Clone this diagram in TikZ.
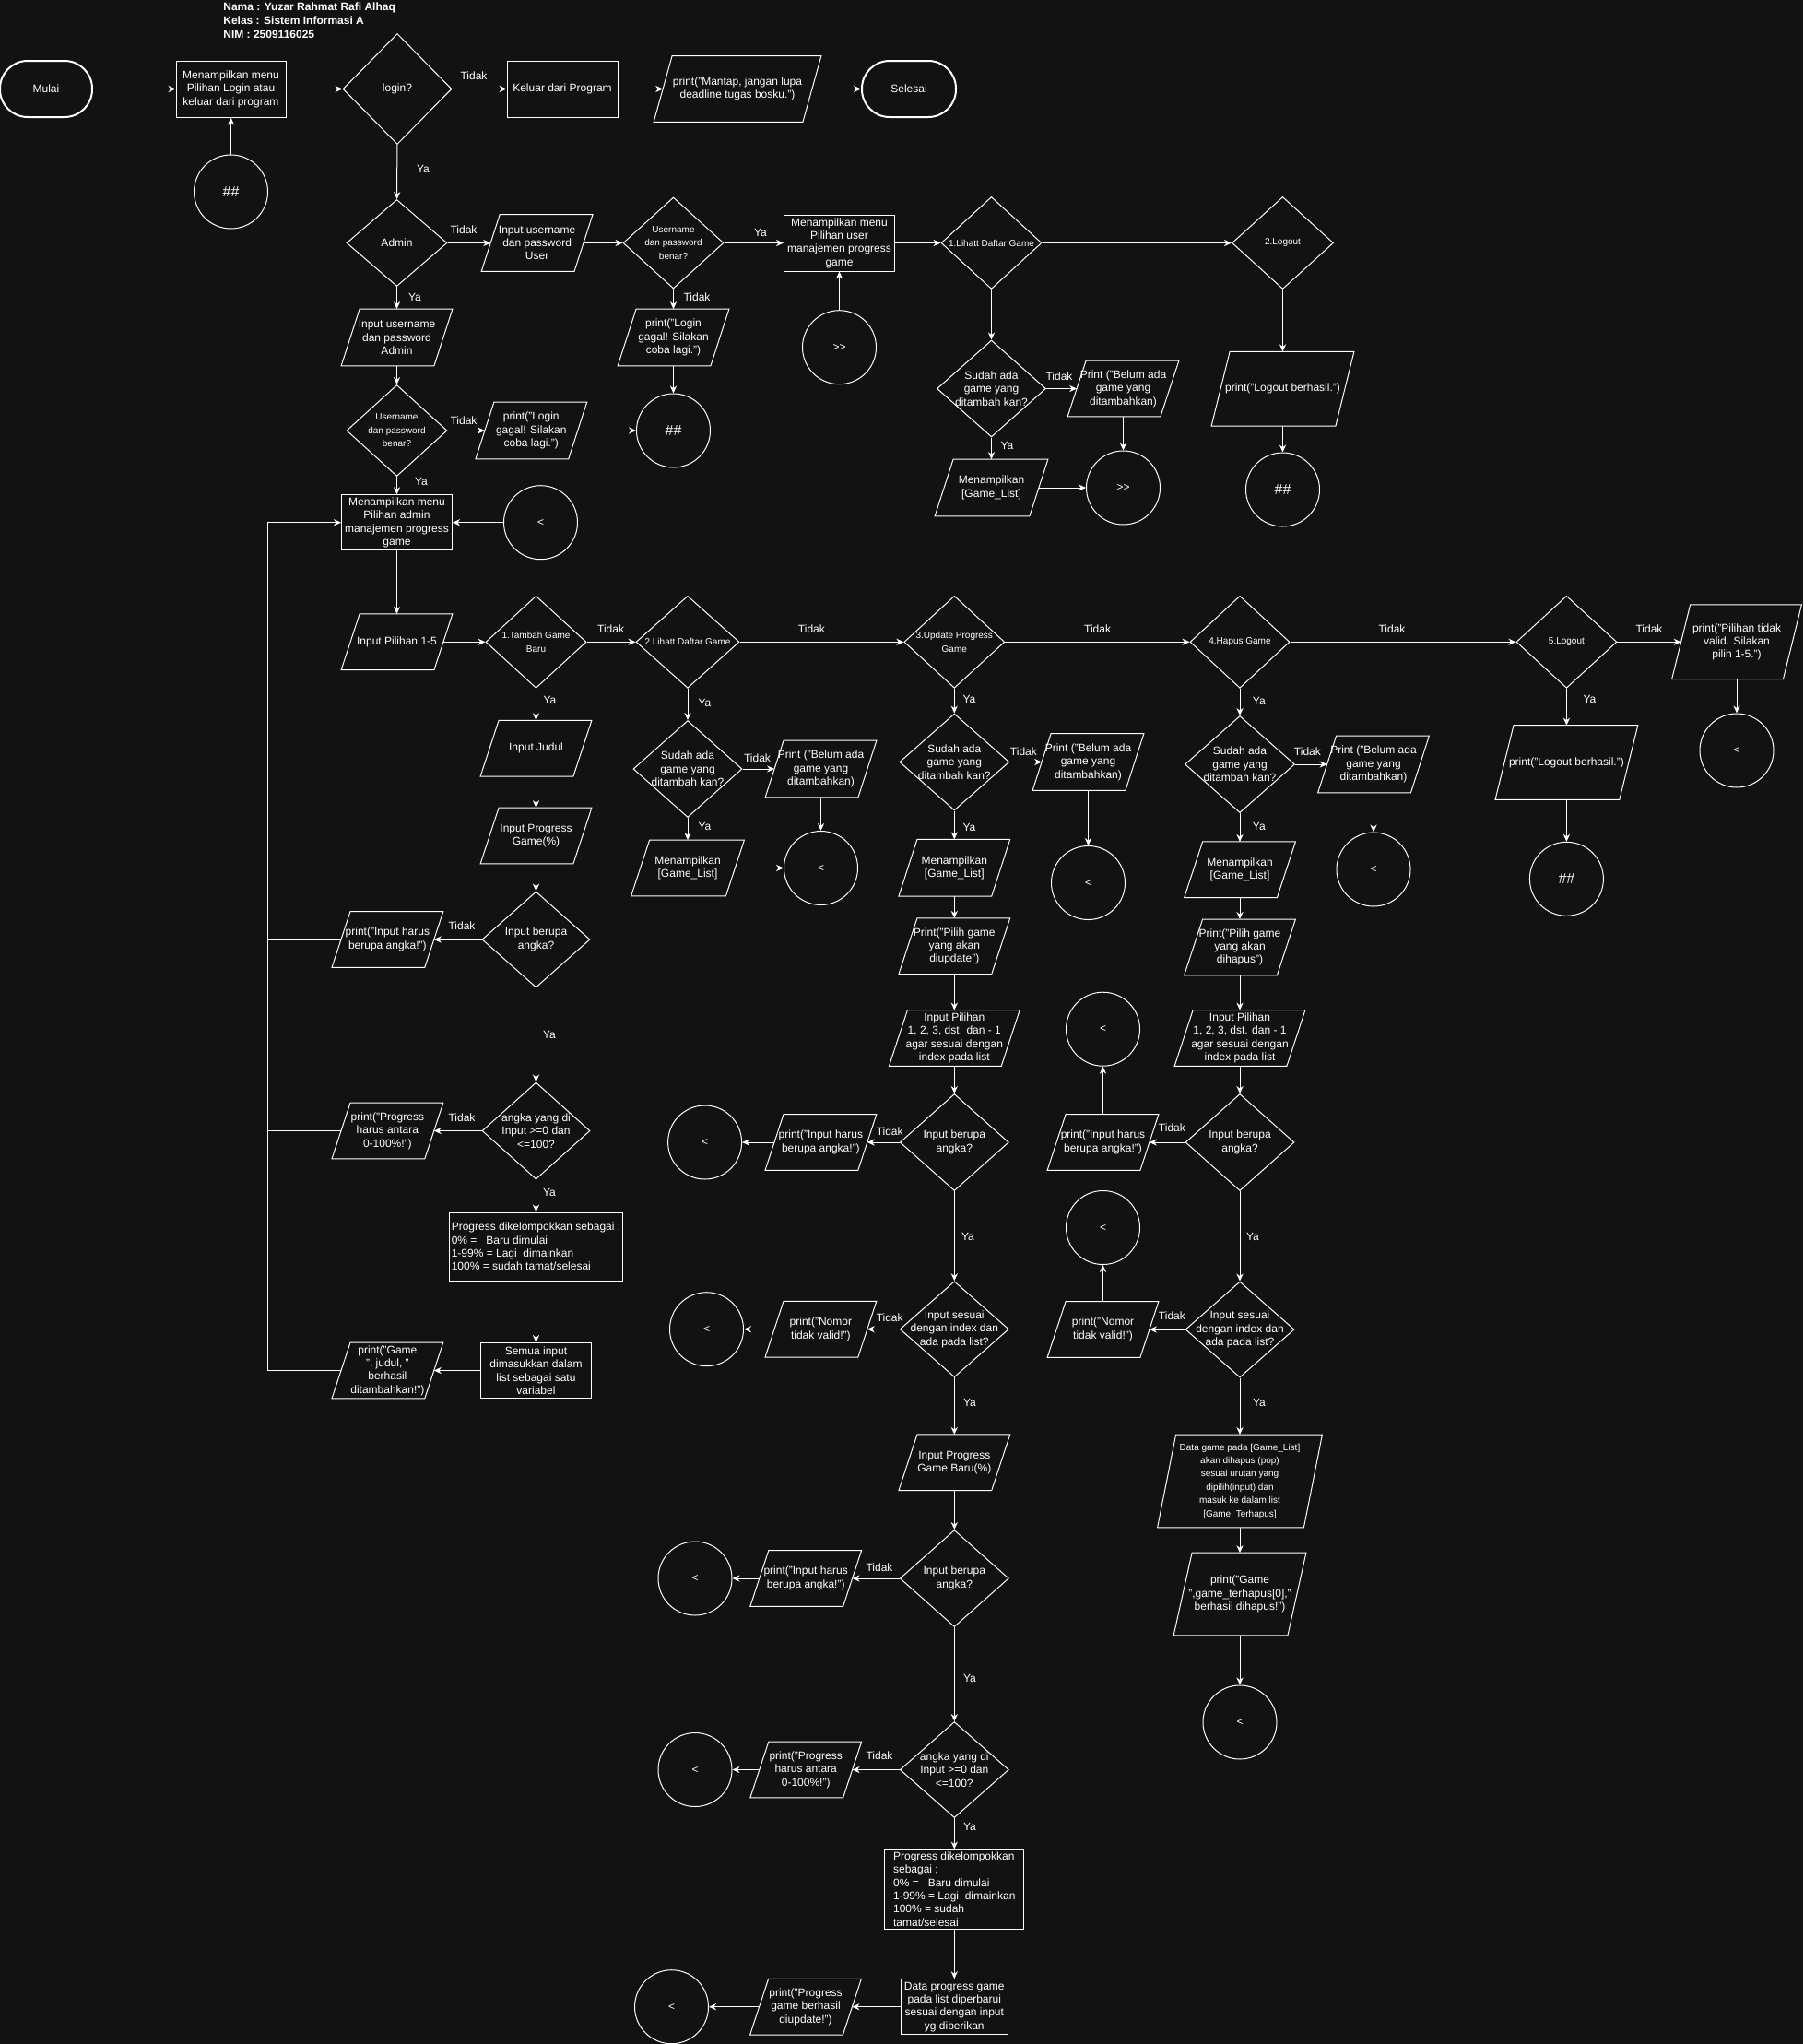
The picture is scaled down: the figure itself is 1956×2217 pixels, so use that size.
\documentclass[tikz,border=0pt]{standalone}
\usepackage{fontspec}
\setmainfont{Liberation Sans}
\usetikzlibrary{shapes.geometric, arrows.meta, calc}
\definecolor{bg}{HTML}{121212}
\newcommand\ioN[7]{%
  \node[iobox, #6, minimum width={(#4-20)*0.5pt}, minimum height={#5*0.5pt}] (#1) at (#2,#3) {#7};
  \draw[shp] ([xshift=5pt]#1.north west) -- ([xshift=5pt]#1.north east) -- ([xshift=-5pt]#1.south east) -- ([xshift=-5pt]#1.south west) -- cycle;}
\newcommand\prN[7]{%
  \node[procbox, #6, minimum width={#4*0.5pt}, minimum height={#5*0.5pt}] (#1) at (#2,#3) {#7};}
\newcommand\diN[7]{%
  \node[diabox, minimum width={#4*0.5pt}, minimum height={#5*0.5pt}, label={[#6]center:{#7}}] (#1) at (#2,#3) {};}
\begin{document}
\begin{tikzpicture}[x=0.5pt, y=-0.5pt,
  tx/.style={font=\fontsize{6}{7.2}\selectfont, align=center, text=white},
  txs/.style={font=\fontsize{5}{7.2}\selectfont, align=center, text=white},
  txl/.style={font=\fontsize{6}{7.2}\selectfont, align=left, text=white},
  txd/.style={font=\fontsize{5}{7.2}\selectfont, align=center, text=white},
  lbl/.style={font=\fontsize{6}{7.2}\selectfont, text=white, inner sep=0pt},
  hdr/.style={font=\bfseries\fontsize{6}{7.5}\selectfont, text=white, inner sep=0pt, anchor=base west},
  shp/.style={draw=white, line width=0.5pt},
  iobox/.style={rectangle, inner sep=0pt},
  procbox/.style={rectangle, draw=white, line width=0.5pt, inner sep=0pt},
  diabox/.style={diamond, draw=white, line width=0.5pt, inner sep=0pt},
  conn/.style={circle, draw=white, line width=0.5pt, minimum size=40pt, inner sep=0pt, font=\fontsize{6}{7.2}\selectfont, text=white},
  hconn/.style={conn, font=\fontsize{8}{9.6}\selectfont},
  term/.style={rectangle, rounded corners=15pt, draw=white, line width=1pt, minimum width=50pt, minimum height=30.5pt, font=\fontsize{6}{7.2}\selectfont, text=white},
  arr/.style={draw=white, line width=0.5pt, -{Stealth[length=4pt,width=3.6pt]}},
  ln/.style={draw=white, line width=0.5pt},
]
\path[use as bounding box, fill=bg] (0,0) rectangle (1956,2217);

% header
\node[hdr] (hdr1) at (242,11) {Nama : Yuzar Rahmat Rafi Alhaq};
\node[hdr] (hdr2) at (242,26) {Kelas : Sistem Informasi A};
\node[hdr] (hdr3) at (242,41) {NIM : 2509116025};

% top row
\node[term] (mulai) at (50,96.5) {Mulai};
\node[term, minimum width=51pt] (selesai) at (986,96.5) {Selesai};
\prN{menu1}{250.5}{96.5}{119}{61}{tx}{Menampilkan menu\\Pilihan Login atau\\keluar dari program}
\diN{login}{431}{96.5}{118}{120}{tx}{login?}
\prN{keluar}{610}{96.5}{120}{61}{tx}{Keluar dari Program}
\ioN{mantap}{800}{96.5}{181}{71}{tx}{print("Mantap, jangan lupa\\deadline tugas bosku.")}
\node[hconn] (hash1) at (250.5,208) {\#\#};

% login branch
\diN{admin}{430.5}{263.5}{109}{94}{tx}{Admin}
\ioN{inUser}{582.6}{263.5}{120}{61}{tx}{Input username\\dan password\\User}
\diN{cekUser}{730.5}{263.5}{109}{99}{txs}{Username\\dan password\\benar?}
\prN{menuUser}{910.5}{263.5}{120}{61}{tx}{Menampilkan menu\\Pilihan user\\manajemen progress\\game}
\node[conn] (gtUser) at (910.5,376.7) {>{}>};
\ioN{gagalUser}{730.5}{366}{120}{61}{tx}{print("Login\\gagal! Silakan\\coba lagi.")}
\node[hconn] (hash2) at (730.5,467) {\#\#};
\ioN{inAdmin}{430.5}{366}{120}{61}{tx}{Input username\\dan password\\Admin}
\diN{cekAdmin}{430.5}{467}{109}{99}{txs}{Username\\dan password\\benar?}
\ioN{gagalAdmin}{576.3}{467}{120}{61}{tx}{print("Login\\gagal! Silakan\\coba lagi.")}
\prN{menuAdmin}{430.5}{566.7}{120}{60}{tx}{Menampilkan menu\\Pilihan admin\\manajemen progress\\game}
\node[conn] (ltA) at (586.5,566.7) {<};

% user menu
\diN{lihatU}{1075.5}{263.5}{109}{100}{txs}{1.Lihatt Daftar Game}
\diN{logoutU}{1391.5}{263.5}{110}{100}{txs}{2.Logout}
\diN{sudahU}{1075.5}{421.5}{118}{105}{tx}{Sudah ada\\game yang\\ditambah kan?}
\ioN{belumU}{1218.5}{421.5}{120}{60}{tx}{Print ("Belum ada\\game yang\\ditambahkan)}
\ioN{tampilU}{1075.5}{529}{122}{61}{tx}{Menampilkan\\{[}Game\_List]}
\node[conn] (gtU2) at (1218.5,529) {>{}>};
\ioN{logoutPU}{1391.5}{421.7}{154}{80}{tx}{print("Logout berhasil.")}
\node[hconn] (hash3) at (1391.5,531) {\#\#};

% admin menu
\ioN{inPilihan}{430.5}{696.3}{120}{60}{tx}{Input Pilihan 1-5}
\diN{tambah}{581.5}{696.3}{109}{100}{txs}{1.Tambah Game\\Baru}
\diN{lihatA}{746}{696.3}{112}{100}{txs}{2.Lihatt Daftar Game}
\diN{update}{1035.3}{696.3}{109}{100}{txs}{3.Update Progress\\Game}
\diN{hapus}{1345}{696.3}{108}{100}{txs}{4.Hapus Game}
\diN{logoutA}{1699.4}{696.3}{109}{100}{txs}{5.Logout}
\ioN{invalid}{1884}{696.3}{140}{80}{tx}{print("Pilihan tidak\\valid. Silakan\\pilih 1-5.")}
\node[conn] (ltInv) at (1884,814) {<};

% tambah column
\ioN{inJudul}{581.5}{811.7}{120}{60}{tx}{Input Judul}
\ioN{inProg}{581.5}{906.5}{120}{60}{tx}{Input Progress\\Game(\%)}
\diN{angka1}{581.5}{1019}{117}{104}{tx}{Input berupa\\angka?}
\ioN{errAngka1}{420.4}{1019}{120}{60}{tx}{print("Input harus\\berupa angka!")}
\diN{range1}{581.5}{1226.5}{117}{105}{tx}{angka yang di\\Input >=0 dan\\<=100?}
\ioN{errRange1}{420.4}{1226.5}{120}{60}{tx}{print("Progress\\harus antara\\0-100\%!")}
\prN{kelompok1}{581.5}{1352}{188}{74}{txl}{Progress dikelompokkan sebagai ;\\0\% =\ \ \ Baru dimulai\\1-99\% = Lagi\ \ dimainkan\\100\% = sudah tamat/selesai}
\prN{semua}{581.5}{1486.5}{120}{60}{tx}{Semua input\\dimasukkan dalam\\list sebagai satu\\variabel}
\ioN{berhasil1}{420.4}{1486.5}{120}{60}{tx}{print("Game\\", judul, "\\berhasil\\ditambahkan!")}
\coordinate (loopx) at (290,566.7);

% lihat column
\diN{sudahA}{746}{834}{118}{105}{tx}{Sudah ada\\game yang\\ditambah kan?}
\ioN{belumA}{890.5}{834}{120}{61}{tx}{Print ("Belum ada\\game yang\\ditambahkan)}
\ioN{tampilA}{746}{941.5}{122}{60}{tx}{Menampilkan\\{[}Game\_List]}
\node[conn] (ltA2) at (890.5,941.5) {<};

% update column
\diN{sudahUp}{1035.3}{826.5}{119}{105}{tx}{Sudah ada\\game yang\\ditambah kan?}
\ioN{belumUp}{1180.5}{826.5}{120}{61}{tx}{Print ("Belum ada\\game yang\\ditambahkan)}
\node[conn] (ltUp1) at (1180.5,957.5) {<};
\ioN{tampilUp}{1035.3}{941.3}{120}{61}{tx}{Menampilkan\\{[}Game\_List]}
\ioN{pilihUp}{1035.3}{1026.3}{120}{60}{tx}{Print("Pilih game\\yang akan\\diupdate")}
\ioN{inPilUp}{1035.3}{1126}{141}{60}{tx}{Input Pilihan\\1, 2, 3, dst. dan - 1\\agar sesuai dengan\\index pada list}
\diN{angkaUp}{1035.3}{1239}{118}{105}{tx}{Input berupa\\angka?}
\ioN{errAngkaUp}{890.4}{1239}{120}{60}{tx}{print("Input harus\\berupa angka!")}
\node[conn] (ltUp2) at (764.6,1239) {<};
\diN{idxUp}{1035.3}{1441.7}{118}{104}{tx}{Input sesuai\\dengan index dan\\ada pada list?}
\ioN{nomorUp}{890.4}{1441.7}{120}{60}{tx}{print("Nomor\\tidak valid!")}
\node[conn] (ltUp3) at (766.5,1441.7) {<};
\ioN{progBaru}{1035.3}{1586.3}{120}{60}{tx}{Input Progress\\Game Baru(\%)}
\diN{angkaUp2}{1035.3}{1712}{118}{105}{tx}{Input berupa\\angka?}
\ioN{errAngkaUp2}{874.2}{1712}{120}{60}{tx}{print("Input harus\\berupa angka!")}
\node[conn] (ltUp4) at (754,1712) {<};
\diN{rangeUp}{1035.3}{1919.5}{118}{104}{tx}{angka yang di\\Input >=0 dan\\<=100?}
\ioN{errRangeUp}{874.2}{1919.5}{120}{60}{tx}{print("Progress\\harus antara\\0-100\%!")}
\node[conn] (ltUp5) at (754,1919.5) {<};
\prN{kelompokUp}{1035.3}{2049}{151}{86}{txl}{Progress dikelompokkan\\sebagai ;\\0\% =\ \ \ Baru dimulai\\1-99\% = Lagi\ \ dimainkan\\100\% = sudah\\tamat/selesai}
\prN{dataUp}{1035.3}{2176.7}{116}{60}{tx}{Data progress game\\pada list diperbarui\\sesuai dengan input\\yg diberikan}
\ioN{berhasilUp}{874}{2176.7}{120}{60}{tx}{print("Progress\\game berhasil\\diupdate!")}
\node[conn] (ltUp6) at (728.5,2176.7) {<};

% hapus column
\diN{sudahH}{1345}{829}{119}{105}{tx}{Sudah ada\\game yang\\ditambah kan?}
\ioN{belumH}{1490}{829}{120}{61}{tx}{Print ("Belum ada\\game yang\\ditambahkan)}
\node[conn] (ltH1) at (1490,943) {<};
\ioN{tampilH}{1345}{943.3}{120}{60}{tx}{Menampilkan\\{[}Game\_List]}
\ioN{pilihH}{1345}{1027.4}{120}{60}{tx}{Print("Pilih game\\yang akan\\dihapus")}
\ioN{inPilH}{1345}{1126}{141}{60}{tx}{Input Pilihan\\1, 2, 3, dst. dan - 1\\agar sesuai dengan\\index pada list}
\diN{angkaH}{1345}{1239}{118}{105}{tx}{Input berupa\\angka?}
\ioN{errAngkaH}{1196.5}{1239}{120}{60}{tx}{print("Input harus\\berupa angka!")}
\node[conn] (ltH2) at (1196.5,1116.2) {<};
\diN{idxH}{1345}{1442}{118}{104}{tx}{Input sesuai\\dengan index dan\\ada pada list?}
\ioN{nomorH}{1196.5}{1442}{120}{60}{tx}{print("Nomor\\tidak valid!")}
\node[conn] (ltH3) at (1196.5,1331.5) {<};
\ioN{dataH}{1345}{1606.4}{178}{100}{txd}{Data game pada [Game\_List]\\akan dihapus (pop)\\sesuai urutan yang\\dipilih(input) dan\\masuk ke dalam list\\{[}Game\_Terhapus]}
\ioN{printH}{1345}{1729}{143}{89}{tx}{print("Game\\",game\_terhapus[0],"\\berhasil dihapus!")}
\node[conn] (ltH4) at (1345,1868) {<};

% logout admin
\ioN{logoutPA}{1699.4}{827}{154}{80}{tx}{print("Logout berhasil.")}
\node[hconn] (hash4) at (1699.4,953.3) {\#\#};

% connectors
\draw[arr] (mulai) -- (menu1);
\draw[arr] (menu1) -- (login);
\draw[arr] (login) -- (keluar);
\draw[arr] (keluar) -- (mantap);
\draw[arr] (mantap) -- (selesai);
\draw[arr] (hash1) -- (menu1);
\draw[arr] (login) -- (admin);
\draw[arr] (admin) -- (inUser);
\draw[arr] (inUser) -- (cekUser);
\draw[arr] (cekUser) -- (menuUser);
\draw[arr] (cekUser) -- (gagalUser);
\draw[arr] (gagalUser) -- (hash2);
\draw[arr] (gtUser) -- (menuUser);
\draw[arr] (menuUser) -- (lihatU);
\draw[arr] (lihatU) -- (logoutU);
\draw[arr] (lihatU) -- (sudahU);
\draw[arr] (sudahU) -- (belumU);
\draw[arr] (sudahU) -- (tampilU);
\draw[arr] (belumU) -- (gtU2);
\draw[arr] (tampilU) -- (gtU2);
\draw[arr] (logoutU) -- (logoutPU);
\draw[arr] (logoutPU) -- (hash3);
\draw[arr] (admin) -- (inAdmin);
\draw[arr] (inAdmin) -- (cekAdmin);
\draw[arr] (cekAdmin) -- (gagalAdmin);
\draw[arr] (gagalAdmin) -- (hash2);
\draw[arr] (cekAdmin) -- (menuAdmin);
\draw[arr] (ltA) -- (menuAdmin);
\draw[arr] (menuAdmin) -- (inPilihan);
\draw[arr] (inPilihan) -- (tambah);
\draw[arr] (tambah) -- (lihatA);
\draw[arr] (lihatA) -- (update);
\draw[arr] (update) -- (hapus);
\draw[arr] (hapus) -- (logoutA);
\draw[arr] (logoutA) -- (invalid);
\draw[arr] (invalid) -- (ltInv);
% tambah
\draw[arr] (tambah) -- (inJudul);
\draw[arr] (inJudul) -- (inProg);
\draw[arr] (inProg) -- (angka1);
\draw[arr] (angka1) -- (errAngka1);
\draw[arr] (angka1) -- (range1);
\draw[arr] (range1) -- (errRange1);
\draw[arr] (range1) -- (kelompok1);
\draw[arr] (kelompok1) -- (semua);
\draw[arr] (semua) -- (berhasil1);
\draw[arr] (berhasil1.west) -- (berhasil1.west -| loopx) -- (loopx) -- (menuAdmin.west);
\draw[ln] (errAngka1.west) -- (errAngka1.west -| loopx);
\draw[ln] (errRange1.west) -- (errRange1.west -| loopx);
% lihat
\draw[arr] (lihatA) -- (sudahA);
\draw[arr] (sudahA) -- (belumA);
\draw[arr] (sudahA) -- (tampilA);
\draw[arr] (belumA) -- (ltA2);
\draw[arr] (tampilA) -- (ltA2);
% update
\draw[arr] (update) -- (sudahUp);
\draw[arr] (sudahUp) -- (belumUp);
\draw[arr] (belumUp) -- (ltUp1);
\draw[arr] (sudahUp) -- (tampilUp);
\draw[arr] (tampilUp) -- (pilihUp);
\draw[arr] (pilihUp) -- (inPilUp);
\draw[arr] (inPilUp) -- (angkaUp);
\draw[arr] (angkaUp) -- (errAngkaUp);
\draw[arr] (errAngkaUp) -- (ltUp2);
\draw[arr] (angkaUp) -- (idxUp);
\draw[arr] (idxUp) -- (nomorUp);
\draw[arr] (nomorUp) -- (ltUp3);
\draw[arr] (idxUp) -- (progBaru);
\draw[arr] (progBaru) -- (angkaUp2);
\draw[arr] (angkaUp2) -- (errAngkaUp2);
\draw[arr] (errAngkaUp2) -- (ltUp4);
\draw[arr] (angkaUp2) -- (rangeUp);
\draw[arr] (rangeUp) -- (errRangeUp);
\draw[arr] (errRangeUp) -- (ltUp5);
\draw[arr] (rangeUp) -- (kelompokUp);
\draw[arr] (kelompokUp) -- (dataUp);
\draw[arr] (dataUp) -- (berhasilUp);
\draw[arr] (berhasilUp) -- (ltUp6);
% hapus
\draw[arr] (hapus) -- (sudahH);
\draw[arr] (sudahH) -- (belumH);
\draw[arr] (belumH) -- (ltH1);
\draw[arr] (sudahH) -- (tampilH);
\draw[arr] (tampilH) -- (pilihH);
\draw[arr] (pilihH) -- (inPilH);
\draw[arr] (inPilH) -- (angkaH);
\draw[arr] (angkaH) -- (errAngkaH);
\draw[arr] (errAngkaH) -- (ltH2);
\draw[arr] (angkaH) -- (idxH);
\draw[arr] (idxH) -- (nomorH);
\draw[arr] (nomorH) -- (ltH3);
\draw[arr] (idxH) -- (dataH);
\draw[arr] (dataH) -- (printH);
\draw[arr] (printH) -- (ltH4);
% logout admin
\draw[arr] (logoutA) -- (logoutPA);
\draw[arr] (logoutPA) -- (hash4);

% edge labels
\node[lbl] (l01) at (514,82) {Tidak};
\node[lbl] (l02) at (459,183) {Ya};
\node[lbl] (l03) at (503,249) {Tidak};
\node[lbl] (l04) at (825,252) {Ya};
\node[lbl] (l05) at (756,322) {Tidak};
\node[lbl] (l06) at (450,322) {Ya};
\node[lbl] (l07) at (503,456) {Tidak};
\node[lbl] (l08) at (457,522) {Ya};
\node[lbl] (l09) at (1149,408) {Tidak};
\node[lbl] (l10) at (1092.5,483) {Ya};
\node[lbl] (l11) at (662.6,682) {Tidak};
\node[lbl] (l12) at (880.4,682) {Tidak};
\node[lbl] (l13) at (1190.6,682) {Tidak};
\node[lbl] (l14) at (1510,682) {Tidak};
\node[lbl] (l15) at (1789,682) {Tidak};
\node[lbl] (l16) at (596.5,759) {Ya};
\node[lbl] (l17) at (764.4,762) {Ya};
\node[lbl] (l18) at (821.5,822) {Tidak};
\node[lbl] (l19) at (764.4,896) {Ya};
\node[lbl] (l20) at (1051.4,758) {Ya};
\node[lbl] (l21) at (1110.4,815) {Tidak};
\node[lbl] (l22) at (1051.4,897) {Ya};
\node[lbl] (l23) at (1365.8,760) {Ya};
\node[lbl] (l24) at (1418.4,815) {Tidak};
\node[lbl] (l25) at (1365.8,896) {Ya};
\node[lbl] (l26) at (1724.4,758) {Ya};
\node[lbl] (l27) at (501,1004.5) {Tidak};
\node[lbl] (l28) at (596,1122) {Ya};
\node[lbl] (l29) at (501,1212) {Tidak};
\node[lbl] (l30) at (596,1293) {Ya};
\node[lbl] (l31) at (965.2,1227) {Tidak};
\node[lbl] (l32) at (1050,1341) {Ya};
\node[lbl] (l33) at (965.2,1429) {Tidak};
\node[lbl] (l34) at (1052,1521) {Ya};
\node[lbl] (l35) at (954,1700) {Tidak};
\node[lbl] (l36) at (1052,1820) {Ya};
\node[lbl] (l37) at (954,1904) {Tidak};
\node[lbl] (l38) at (1052,1981) {Ya};
\node[lbl] (l39) at (1271.4,1223) {Tidak};
\node[lbl] (l40) at (1359,1341) {Ya};
\node[lbl] (l41) at (1271.4,1427.5) {Tidak};
\node[lbl] (l42) at (1366,1521) {Ya};
\end{tikzpicture}
\end{document}
